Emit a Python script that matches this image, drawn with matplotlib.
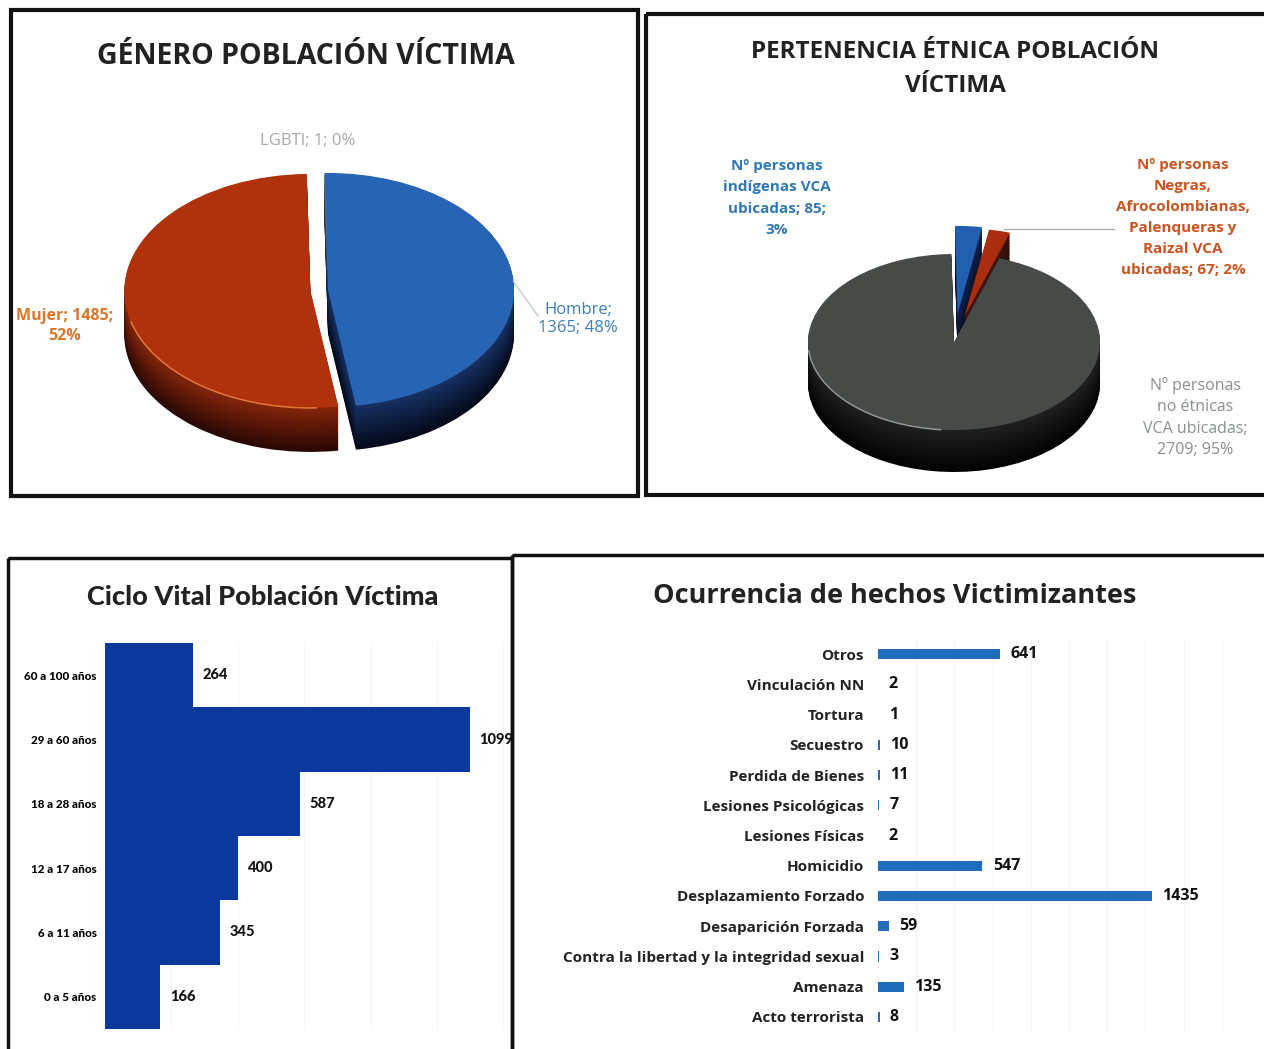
import numpy as np
import matplotlib
matplotlib.use("Agg")
import matplotlib.pyplot as plt
from matplotlib.patches import Rectangle, Arc

W, H = 1264, 1049

# ---- data ----
genero_labels = ["Hombre", "Mujer", "LGBTI"]
genero_values = [1365, 1485, 1]
etnia_labels = ["Indígenas", "Negras", "No étnicas"]
etnia_values = [85, 67, 2709]
ciclo_labels = ["0 a 5 años", "6 a 11 años", "12 a 17 años", "18 a 28 años", "29 a 60 años", "60 a 100 años"]
ciclo_values = [166, 345, 400, 587, 1099, 264]
hechos_labels = ["Acto terrorista", "Amenaza", "Contra la libertad y la integridad sexual",
                 "Desaparición Forzada", "Desplazamiento Forzado", "Homicidio",
                 "Lesiones Físicas", "Lesiones Psicológicas", "Perdida de Bienes",
                 "Secuestro", "Tortura", "Vinculación NN", "Otros"]
hechos_values = [8, 135, 3, 59, 1435, 547, 2, 7, 11, 10, 1, 2, 641]

NARROW = ['Lato', 'DejaVu Sans']
plt.rcParams['font.family'] = ['Open Sans', 'DejaVu Sans']
fig = plt.figure(figsize=(W / 100, H / 100), dpi=100, facecolor='white')


def axes_px(x0, y0, x1, y1, **kw):
    return fig.add_axes([x0 / W, 1 - y1 / H, (x1 - x0) / W, (y1 - y0) / H], **kw)


def mix(a, b, t):
    a, b = np.array(a), np.array(b)
    return tuple((a + (b - a) * t) / 255)


def pie3d(values, cx, cy, rx, ry, depth, start, tops, side_hi, side_lo, explode, rims):
    pad = 1.4
    ax = axes_px(cx - pad * rx, cy - pad * ry, cx + pad * rx, cy + (pad * ry + depth))
    ax.patch.set_alpha(0)
    for k in np.arange(depth, 0, -1.5):
        t = k / depth
        ax.pie(values, startangle=start, counterclock=False, explode=explode,
               center=(0, -k / ry), radius=1, normalize=True,
               colors=[mix(h, l, t) for h, l in zip(side_hi, side_lo)],
               wedgeprops=dict(linewidth=0))
    ax.pie(values, startangle=start, counterclock=False, explode=explode, radius=1,
           normalize=True, colors=[tuple(np.array(c) / 255) for c in tops],
           wedgeprops=dict(linewidth=0))
    ax.set_aspect('auto')
    ax.set_xlim(-pad, pad)
    ax.set_ylim(-pad - depth / ry, pad)
    ax.axis('off')
    fr = np.cumsum([0] + list(values)) / sum(values)
    for i, t1, t2, col in rims:
        mid = np.radians(start - 360 * (fr[i] + fr[i + 1]) / 2)
        c = (explode[i] * np.cos(mid), explode[i] * np.sin(mid))
        ax.add_patch(Arc(c, 2, 2, theta1=t1, theta2=t2, color=col, lw=1.1))
    return ax


# Gender pie
pie3d(genero_values, 328, 290, 186, 117, 44, 91,
      [(40, 100, 180), (176, 50, 12), (150, 150, 150)],
      [(22, 50, 100), (135, 38, 10), (90, 90, 90)],
      [(4, 8, 24), (40, 8, 4), (30, 30, 30)],
      [0, 0.095, 0], [(1, 195, 272, '#e2773a')])

# Ethnic pie
pie3d(etnia_values, 954, 342, 146, 88, 42, 91,
      [(35, 95, 175), (170, 45, 15), (70, 75, 72)],
      [(15, 35, 80), (70, 20, 10), (32, 32, 32)],
      [(5, 10, 25), (25, 8, 5), (2, 2, 2)],
      [0.32, 0.30, 0], [(2, 185, 265, '#8f9492')])

# Life-cycle bars
ax3 = axes_px(105, 643, 510, 1029)
bars3 = ax3.barh(ciclo_labels, ciclo_values, height=1.0, color='#0B3A9E', linewidth=0)
ax3.set_xlim(0, 405 / 0.332)
ax3.set_ylim(-0.5, 5.5)
for s in ax3.spines.values():
    s.set_visible(False)
ax3.set_xticks(np.arange(200, 1201, 200))
ax3.set_xticklabels([])
ax3.xaxis.grid(True, color='#f6f6f6', lw=0.8)
ax3.set_axisbelow(True)
ax3.tick_params(length=0, pad=6)
for lab in ax3.get_yticklabels():
    lab.set_family(NARROW)
    lab.set_fontweight(900)
    lab.set_fontsize(8.4)
for t in ax3.bar_label(bars3, padding=7, fontsize=10.5, color='#111111'):
    t.set_family(NARROW)
    t.set_fontweight(900)

# Events bars
ax4 = axes_px(878, 639, 1230, 1032)
bars4 = ax4.barh(hechos_labels, hechos_values, height=0.34, color='#1F6CBB', linewidth=0)
ax4.set_xlim(0, 352 / 0.191)
ax4.set_ylim(-0.5, 12.5)
for s in ax4.spines.values():
    s.set_visible(False)
ax4.set_xticks(np.arange(200, 1801, 200))
ax4.set_xticklabels([])
ax4.xaxis.grid(True, color='#f6f6f6', lw=0.8)
ax4.set_axisbelow(True)
ax4.tick_params(length=0, pad=10)
for lab in ax4.get_yticklabels():
    lab.set_fontsize(11)
    lab.set_fontweight('bold')
    lab.set_color('#222222')
ax4.bar_label(bars4, padding=7.5, fontsize=11.5, fontweight='bold', color='#111111')

# Overlay for frames, titles and labels, in pixel coordinates
ov = fig.add_axes([0, 0, 1, 1], zorder=10)
ov.patch.set_alpha(0)
ov.set_xlim(0, W)
ov.set_ylim(H, 0)
ov.axis('off')

for (x0, y0, x1, y1, lw) in [(11, 10, 638, 496, 3.0), (646, 14, 1266, 495, 3.0),
                             (8, 558, 512, 1052, 2.5), (512, 555, 1268, 1052, 2.5)]:
    ov.add_patch(Rectangle((x0, y0), x1 - x0, y1 - y0, fill=False, ec='#111111', lw=lw))

tkw = dict(ha='center', va='center', fontweight='bold', color='#222222')
ov.text(306, 56, "GÉNERO POBLACIÓN VÍCTIMA", fontsize=20.5, **tkw)
ov.text(955, 69, "PERTENENCIA ÉTNICA POBLACIÓN\nVÍCTIMA", fontsize=17.5, linespacing=1.5, **tkw)
ov.text(263, 597, "Ciclo Vital Población Víctima", fontsize=19.5, family=NARROW,
        ha='center', va='center', fontweight=900, color='#222222')
ov.text(895, 596, "Ocurrencia de hechos Victimizantes", fontsize=19.5, **tkw)

lkw = dict(ha='center', va='center')
ov.text(308, 141, "LGBTI; 1; 0%", color='#a8a8a8', fontsize=12, **lkw)
ov.text(578, 319, "Hombre;\n1365; 48%", color='#3f7fb8', fontsize=12, linespacing=1.25, **lkw)
ov.text(65, 326, "Mujer; 1485;\n52%", color='#d9772b', fontweight='bold', fontsize=11.5, linespacing=1.3, **lkw)
ov.text(777, 198, "Nº personas\nindígenas VCA\nubicadas; 85;\n3%", color='#2f78b5', fontweight='bold',
        fontsize=11, linespacing=1.65, **lkw)
ov.text(1183, 217.5, "Nº personas\nNegras,\nAfrocolombianas,\nPalenqueras y\nRaizal VCA\nubicadas; 67; 2%",
        color='#c9541f', fontweight='bold', fontsize=11, linespacing=1.65, **lkw)
ov.text(1195, 417.5, "Nº personas\nno étnicas\nVCA ubicadas;\n2709; 95%", color='#8a8f8f',
        fontsize=11.5, linespacing=1.45, **lkw)

ov.plot([513, 538], [281, 316], color='#b5c2c9', lw=0.8)
ov.plot([1004, 1114], [229, 229], color='#a8a8a8', lw=0.9)

fig.savefig("out.png", dpi=100, facecolor='white')
